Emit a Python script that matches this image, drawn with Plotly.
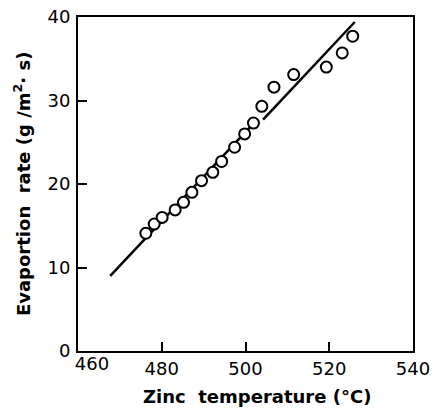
import plotly.graph_objects as go

# Measured zinc evaporation rate vs. melt temperature
temperature_c = [476.2, 478.2, 480.1, 483.2, 485.2, 487.2, 489.5, 492.2, 494.3,
                 497.4, 499.8, 501.9, 503.9, 506.8, 511.5, 519.3, 523.1, 525.6]
evap_rate = [14.1, 15.2, 16.0, 16.9, 17.8, 19.0, 20.4, 21.4, 22.7,
             24.4, 26.0, 27.3, 29.3, 31.6, 33.1, 34.0, 35.7, 37.7]

# Two straight-line fits (lower and upper temperature ranges)
fit_low_t = [467.7, 502.0]
fit_low_r = [9.0, 27.3]
fit_high_t = [504.2, 526.1]
fit_high_r = [27.7, 39.4]

x_ticks = [480, 500, 520, 540]
x_first_tick = [460]          # drawn on an overlay axis so its label can sit clear of "0"
y_ticks = [0, 10, 20, 30, 40]
x_range = [460, 540]
y_range = [0, 40]

FONT = "DejaVu Sans"
tick_font = dict(family=FONT, size=18, color="black")

fig = go.Figure()
fig.add_trace(go.Scatter(x=fit_low_t, y=fit_low_r, mode="lines",
                         line=dict(color="black", width=2.5), showlegend=False))
fig.add_trace(go.Scatter(x=fit_high_t, y=fit_high_r, mode="lines",
                         line=dict(color="black", width=2.5), showlegend=False))
fig.add_trace(go.Scatter(x=temperature_c, y=evap_rate, mode="markers",
                         marker=dict(symbol="circle", size=11, color="white",
                                     line=dict(color="black", width=2)),
                         showlegend=False))

axis_common = dict(showline=True, linecolor="black", linewidth=2, mirror=True,
                   ticks="inside", ticklen=9, tickwidth=2, tickcolor="black",
                   showgrid=False, zeroline=False, automargin=False,
                   tickfont=tick_font)

fig.update_xaxes(range=x_range, tickvals=x_ticks, **axis_common)
fig.update_yaxes(range=y_range, tickvals=y_ticks, ticklabelstandoff=2, **axis_common)

fig.update_layout(
    xaxis2=dict(overlaying="x", anchor="y", side="bottom", range=x_range,
                tickvals=x_first_tick, ticks="", showline=False, showgrid=False,
                zeroline=False, automargin=False, ticklabelshift=14,
                tickfont=tick_font),
)
# invisible carrier so the overlay axis is rendered
fig.add_trace(go.Scatter(x=x_first_tick, y=[y_range[0]], xaxis="x2", mode="markers",
                         marker=dict(opacity=0), hoverinfo="skip", showlegend=False))

fig.add_annotation(text="Zinc  temperature (°C)", xref="paper", yref="paper",
                   x=0.534, y=-0.098, xanchor="center", yanchor="top", showarrow=False,
                   font=dict(family=FONT, size=18, color="black", weight="bold"))
fig.add_annotation(text="Evaportion  rate (g /m<sup>2</sup>· s)", xref="paper", yref="paper",
                   x=-0.167, y=0.5, xanchor="center", yanchor="middle", textangle=-90,
                   showarrow=False,
                   font=dict(family=FONT, size=18, color="black", weight="bold"))

fig.update_layout(width=434, height=410, margin=dict(l=78, r=21, t=17, b=59, autoexpand=False),
                  plot_bgcolor="white", paper_bgcolor="white")

fig.write_html("out.html")
